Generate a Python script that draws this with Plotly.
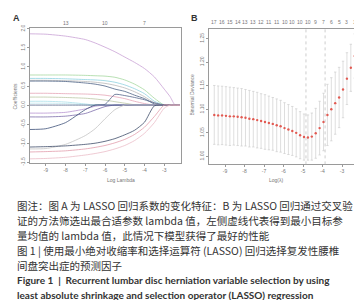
import plotly.graph_objects as go

W, H = 362, 300

# ---------------- Panel A: LASSO coefficient paths ----------------
log_lambda_a = [-9.8, -9, -8, -7, -6.5, -6, -5.5, -5, -4.5, -4, -3.5, -3, -2.7, -2.45, -2.2]
coef_v1 = [1.87, 1.86, 1.81, 1.72, 1.63, 1.52, 1.40, 1.26, 1.12, 0.96, 0.74, 0.42, 0.22, 0.0, 0.0]
coef_v2 = [0.79, 0.79, 0.79, 0.78, 0.77, 0.76, 0.73, 0.66, 0.55, 0.40, 0.18, 0, 0, 0, 0]
coef_v3 = [0.70, 0.70, 0.69, 0.67, 0.66, 0.64, 0.60, 0.53, 0.43, 0.30, 0.10, 0, 0, 0, 0]
coef_v4 = [0.65, 0.65, 0.64, 0.62, 0.60, 0.57, 0.52, 0.45, 0.35, 0.22, 0.06, 0, 0, 0, 0]
coef_v5 = [0.63, 0.63, 0.62, 0.58, 0.55, 0.50, 0.42, 0.36, 0.26, 0.17, 0.03, 0, 0, 0, 0]
coef_v6 = [0.31, 0.31, 0.30, 0.29, 0.28, 0.26, 0.22, 0.17, 0.10, 0.04, 0, 0, 0, 0, 0]
coef_v7 = [0.21, 0.21, 0.20, 0.18, 0.16, 0.13, 0.09, 0.05, 0.01, 0, 0, 0, 0, 0, 0]
coef_v8 = [0.10, 0.10, 0.08, 0.03, 0, 0, 0, 0, 0, 0, 0, 0, 0, 0, 0]
coef_v9 = [0.05, 0.05, 0.04, 0.01, 0, 0, 0, 0, 0, 0, 0, 0, 0, 0, 0]
coef_v10 = [0, 0, 0, 0, 0, 0.02, 0.28, 0.25, 0.20, 0.14, 0.06, 0, 0, 0, 0]
coef_v11 = [-0.21, -0.21, -0.19, -0.10, -0.03, 0, 0, 0, 0, 0, 0, 0, 0, 0, 0]
coef_v12 = [-0.31, -0.31, -0.29, -0.22, -0.13, -0.04, 0, 0, 0, 0, 0, 0, 0, 0, 0]
coef_v13 = [-0.64, -0.62, -0.46, -0.12, 0, 0, 0, 0, 0, 0, 0, 0, 0, 0, 0]
coef_v14 = [-1.15, -1.14, -1.03, -0.80, -0.62, -0.36, -0.12, 0, 0, 0, 0, 0, 0, 0, 0]
coef_v15 = [-1.10, -1.09, -1.07, -1.03, -1.00, -0.95, -0.88, -0.78, -0.66, -0.45, -0.02, 0, 0, 0, 0]
coef_v16 = [-1.23, -1.22, -1.20, -1.15, -1.11, -1.06, -0.99, -0.90, -0.77, -0.58, -0.30, 0, 0, 0, 0]
coef_v17 = [-1.41, -1.40, -1.37, -1.31, -1.27, -1.22, -1.15, -1.06, -0.93, -0.74, -0.46, -0.08, 0, 0, 0]

path_colors = ["#c9a1d6", "#a6d8a0", "#8fd2e0", "#b9b9b9", "#4d6285", "#e6a6b8",
               "#bcc8a6", "#a9dfea", "#c3e8f0", "#55668a", "#b894d2", "#7e6dab",
               "#3e5078", "#c4c4c4", "#3f4c6a", "#e29dac", "#ebbcc8"]

top_a_pos = [-8, -6, -4]
top_a_labels = ["13", "10", "7"]

a_xticks = [-9, -8, -7, -6, -5, -4, -3]
a_yticks = [-1.5, -1.0, -0.5, 0.0, 0.5, 1.0, 1.5, 2.0]

# ---------------- Panel B: cross-validation ----------------
log_lambda_b = [-9.55, -9.35, -9.15, -8.95, -8.75, -8.55, -8.35, -8.15, -7.95, -7.75,
                -7.55, -7.35, -7.15, -6.95, -6.75, -6.55, -6.35, -6.15, -5.95, -5.75,
                -5.55, -5.35, -5.15, -4.95, -4.75, -4.55, -4.35, -4.15, -3.95, -3.75,
                -3.55, -3.35, -3.15, -2.95, -2.75, -2.55, -2.35]
cv_mean = [1.088, 1.087, 1.087, 1.086, 1.085, 1.085, 1.084, 1.083, 1.082, 1.080,
           1.079, 1.077, 1.075, 1.073, 1.071, 1.069, 1.066, 1.064, 1.060, 1.057,
           1.054, 1.050, 1.045, 1.041, 1.040, 1.042, 1.049, 1.060, 1.073, 1.088,
           1.100, 1.113, 1.125, 1.142, 1.165, 1.188, 1.213]
cv_se = [0.0625, 0.0625, 0.062, 0.062, 0.062, 0.061, 0.061, 0.061, 0.060, 0.060,
         0.059, 0.059, 0.058, 0.058, 0.057, 0.056, 0.056, 0.055, 0.054, 0.053,
         0.052, 0.051, 0.050, 0.049, 0.048, 0.050, 0.053, 0.057, 0.061, 0.065,
         0.067, 0.066, 0.064, 0.060, 0.055, 0.050, 0.047]
nonzero_labels = ["17", "16", "15", "14", "13", "13", "12", "11", "11", "10",
                  "10", "10", "10", "9", "7", "6", "5", "3", "1"]
lambda_min = -4.85
lambda_1se = -3.87

b_xticks = [-9, -8, -7, -6, -5, -4, -3]
b_yticks = [1.00, 1.05, 1.10, 1.15, 1.20, 1.25]

# ---------------- Figure ----------------
fig = go.Figure()
coef_paths = [coef_v1, coef_v2, coef_v3, coef_v4, coef_v5, coef_v6, coef_v7, coef_v8, coef_v9,
              coef_v10, coef_v11, coef_v12, coef_v13, coef_v14, coef_v15, coef_v16, coef_v17]
for vals, col in zip(coef_paths, path_colors):
    fig.add_trace(go.Scatter(x=log_lambda_a, y=vals, mode="lines",
                             line=dict(color=col, width=0.8, shape="spline", smoothing=0.6),
                             xaxis="x", yaxis="y", showlegend=False, hoverinfo="skip"))

fig.add_trace(go.Scatter(x=log_lambda_b, y=cv_mean, mode="markers",
                         marker=dict(color="#e25a52", size=2.4),
                         error_y=dict(type="data", array=cv_se, visible=True,
                                      color="#c8c8c8", thickness=0.6, width=1.2),
                         xaxis="x2", yaxis="y2", showlegend=False, hoverinfo="skip"))

tickfont = dict(family="Liberation Sans, Arial, sans-serif", size=5, color="#777")
axis_common = dict(showgrid=False, zeroline=False, showline=True, mirror=True,
                   linecolor="#9a9a9a", linewidth=0.8, ticks="outside", ticklen=2,
                   tickcolor="#9a9a9a", tickwidth=0.6, tickfont=tickfont)

fig.update_layout(
    width=W, height=H, margin=dict(l=0, r=0, t=0, b=0),
    paper_bgcolor="white", plot_bgcolor="white",
    xaxis=dict(domain=[22 / W, 173 / W], range=[-9.8, -2.15], tickvals=a_xticks,
               ticktext=[str(v) for v in a_xticks], anchor="y", **axis_common),
    yaxis=dict(domain=[1 - 155 / H, 1 - 17 / H], range=[-1.53, 2.03], tickvals=a_yticks,
               ticktext=[f"{v:.1f}" for v in a_yticks], tickangle=-90, anchor="x", **axis_common),
    xaxis2=dict(domain=[201 / W, 352 / W], range=[-9.82, -2.08], tickvals=b_xticks,
                ticktext=[str(v) for v in b_xticks], anchor="y2", **axis_common),
    yaxis2=dict(domain=[1 - 156 / H, 1 - 18 / H], range=[0.983, 1.271], tickvals=b_yticks,
                ticktext=[f"{v:.2f}" for v in b_yticks], tickangle=-90, anchor="x2", **axis_common),
)

# dashed lambda lines
for xv in [lambda_min, lambda_1se]:
    fig.add_shape(type="line", xref="x2", yref="y2 domain", x0=xv, x1=xv, y0=0, y1=1,
                  line=dict(color="#b8b8b8", width=0.7, dash="dot"))

small = dict(family="Liberation Sans, Arial, sans-serif", size=5, color="#777")
ann = []
for p, t in zip(top_a_pos, top_a_labels):
    ann.append(dict(x=p, y=1 - 12 / H, xref="x", yref="paper", text=t, showarrow=False,
                    font=small, yanchor="middle"))
for p, t in zip(log_lambda_b[::2], nonzero_labels):
    ann.append(dict(x=p, y=1 - 11 / H, xref="x2", yref="paper", text=t, showarrow=False,
                    font=small, yanchor="middle"))
ann += [
    dict(x=97 / W, y=1 - 172 / H, xref="paper", yref="paper", text="Log Lambda", showarrow=False,
         font=small, yanchor="middle"),
    dict(x=278 / W, y=1 - 172 / H, xref="paper", yref="paper", text="Log(λ)", showarrow=False,
         font=small, yanchor="middle"),
    dict(x=7 / W, y=1 - 87 / H, xref="paper", yref="paper", text="Coefficients", showarrow=False,
         font=small, textangle=-90, xanchor="center", yanchor="middle"),
    dict(x=184 / W, y=1 - 85 / H, xref="paper", yref="paper", text="Binomial Deviance",
         showarrow=False, font=small, textangle=-90, xanchor="center", yanchor="middle"),
    dict(x=8 / W, y=1 - 7 / H, xref="paper", yref="paper", text="<b>A</b>", showarrow=False,
         font=dict(family="Liberation Sans, Arial, sans-serif", size=9, color="#333"),
         xanchor="center", yanchor="middle"),
    dict(x=186 / W, y=1 - 7 / H, xref="paper", yref="paper", text="<b>B</b>", showarrow=False,
         font=dict(family="Liberation Sans, Arial, sans-serif", size=9, color="#333"),
         xanchor="center", yanchor="middle"),
]

cjk = "Noto Sans CJK SC"
caption_lines = [
    ("图注：图 A 为 LASSO 回归系数的变化特征：B 为 LASSO 回归通过交叉验", 198, False),
    ("证的方法筛选出最合适参数 lambda 值，左侧虚线代表得到最小目标参", 213, False),
    ("量均值的 lambda 值，此情况下模型获得了最好的性能", 228, False),
    ("图 1 | 使用最小绝对收缩率和选择运算符 (LASSO) 回归选择复发性腰椎", 244, False),
    ("间盘突出症的预测因子", 259, False),
    ("<b>Figure 1  |  Recurrent lumbar disc herniation variable selection by using</b>", 274, True),
    ("<b>least absolute shrinkage and selection operator (LASSO) regression</b>", 289, True),
]
for txt, yy, eng in caption_lines:
    ann.append(dict(x=7 / W, y=1 - yy / H, xref="paper", yref="paper", text=txt, showarrow=False,
                    xanchor="left", yanchor="middle",
                    font=dict(family=("Lato" if eng else cjk), size=(10 if eng else 10.5),
                              color="#333")))

fig.update_layout(annotations=ann)
fig.write_html("out.html")
